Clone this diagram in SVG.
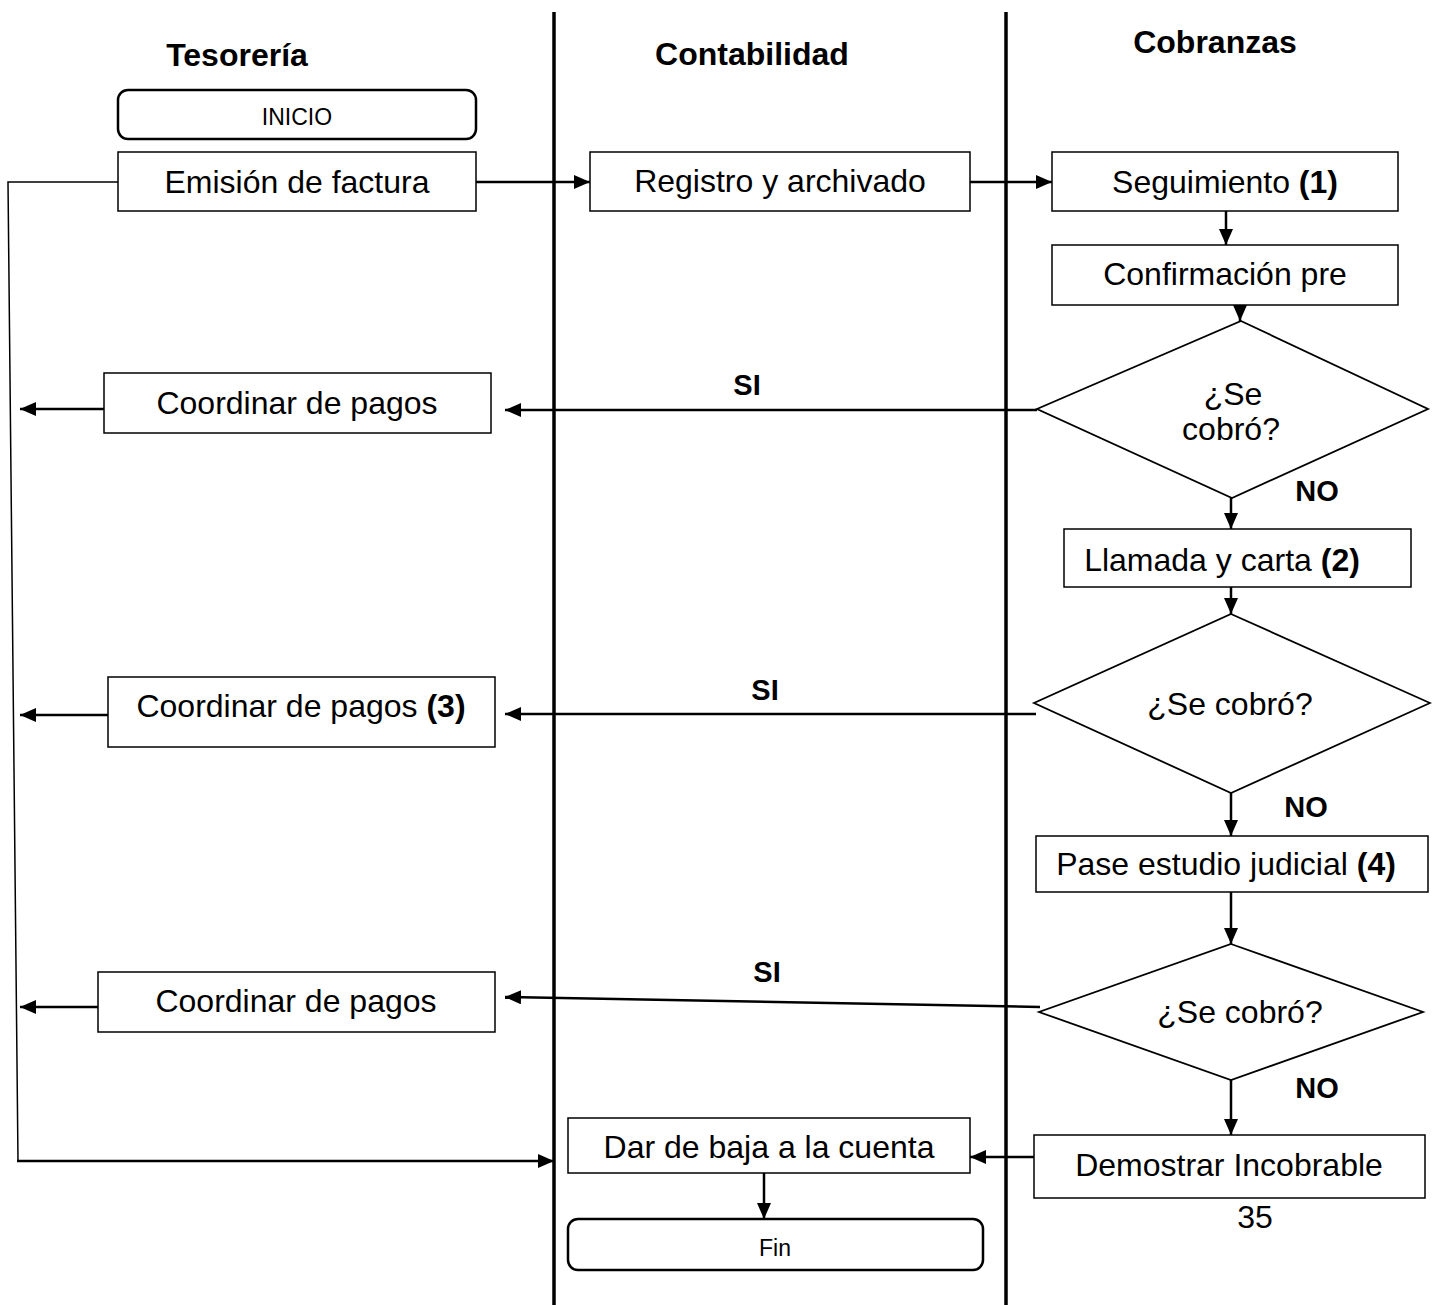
<svg xmlns="http://www.w3.org/2000/svg" width="1432" height="1305" viewBox="0 0 1432 1305">
<style>
text{font-family:"Liberation Sans",Arial,sans-serif;fill:#000;text-anchor:middle}
.h{font-size:32px;font-weight:bold}
.t{font-size:32px}
.s{font-size:23px}
.lb{font-size:29px;font-weight:bold}
.box{fill:#fff;stroke:#000;stroke-width:1.5}
.rbox{fill:#fff;stroke:#000;stroke-width:2.5}
.dia{fill:#fff;stroke:#000;stroke-width:1.8}
.lane{stroke:#000;stroke-width:3.5;fill:none}
.c{stroke:#000;stroke-width:2.5;fill:none;marker-end:url(#ah)}
.thin{stroke:#000;stroke-width:1.5;fill:none}
</style>
<defs>
<marker id="ah" markerUnits="userSpaceOnUse" markerWidth="16" markerHeight="14" refX="16" refY="7" orient="auto">
<path d="M0,0 L16,7 L0,14 z" fill="#000"/>
</marker>
</defs>
<rect width="1432" height="1305" fill="#fff"/>
<g id="lanes">
<line class="lane" x1="554" y1="12" x2="554" y2="1305"/>
<line class="lane" x1="1006" y1="12" x2="1006" y2="1305"/>
<text class="h" x="237" y="66">Tesorería</text>
<text class="h" x="752" y="65">Contabilidad</text>
<text class="h" x="1215" y="53">Cobranzas</text>
</g>
<g id="connectors">
<path class="c" d="M476,182 H590"/>
<path class="c" d="M970,182 H1052"/>
<path class="c" d="M1226,211 V245"/>
<path class="c" d="M1240,305 V321"/>
<path class="c" d="M1231,498 V529"/>
<path class="c" d="M1231,587 V614"/>
<path class="c" d="M1231,793 V836"/>
<path class="c" d="M1231,892 V944"/>
<path class="c" d="M1231,1080 V1135"/>
<path class="c" d="M1034,1157 H970"/>
<path class="c" d="M764,1173 V1219"/>
<path class="c" d="M1037,410 H505"/>
<path class="c" d="M1036,714 H505"/>
<path class="c" d="M1040,1007 L505,997"/>
<path class="c" d="M104,409 H20"/>
<path class="c" d="M108,715 H20"/>
<path class="c" d="M98,1007 H20"/>
<path class="thin" d="M118,182 H8 L18,1161"/>
<path class="c" d="M17,1161 H554"/>
<text class="lb" x="747" y="395">SI</text>
<text class="lb" x="765" y="700">SI</text>
<text class="lb" x="767" y="982">SI</text>
<text class="lb" x="1317" y="501">NO</text>
<text class="lb" x="1306" y="817">NO</text>
<text class="lb" x="1317" y="1098">NO</text>
</g>
<g id="inicio">
<rect class="rbox" x="118" y="90" width="358" height="49" rx="10"/>
<text class="s" x="297" y="125">INICIO</text>
</g>
<g id="emision">
<rect class="box" x="118" y="152" width="358" height="59"/>
<text class="t" x="297" y="193">Emisión de factura</text>
</g>
<g id="registro">
<rect class="box" x="590" y="152" width="380" height="59"/>
<text class="t" x="780" y="192">Registro y archivado</text>
</g>
<g id="seguimiento">
<rect class="box" x="1052" y="152" width="346" height="59"/>
<text class="t" x="1225" y="193">Seguimiento <tspan font-weight="bold">(1)</tspan></text>
</g>
<g id="confirmacion">
<rect class="box" x="1052" y="245" width="346" height="60"/>
<text class="t" x="1225" y="285">Confirmación pre</text>
</g>
<g id="decision1">
<polygon class="dia" points="1241,321 1428,409 1232,498 1037,409"/>
<text class="t" x="1233" y="405">¿Se</text>
<text class="t" x="1231" y="440">cobró?</text>
</g>
<g id="llamada">
<rect class="box" x="1064" y="529" width="347" height="58"/>
<text class="t" x="1222" y="571">Llamada y carta <tspan font-weight="bold">(2)</tspan></text>
</g>
<g id="decision2">
<polygon class="dia" points="1231,614 1430,703 1231,793 1034,703"/>
<text class="t" x="1230" y="715">¿Se cobró?</text>
</g>
<g id="pase">
<rect class="box" x="1036" y="836" width="392" height="56"/>
<text class="t" x="1226" y="875">Pase estudio judicial <tspan font-weight="bold">(4)</tspan></text>
</g>
<g id="decision3">
<polygon class="dia" points="1231,944 1423,1012 1231,1080 1039,1012"/>
<text class="t" x="1240" y="1023">¿Se cobró?</text>
</g>
<g id="demostrar">
<rect class="box" x="1034" y="1135" width="391" height="63"/>
<text class="t" x="1229" y="1176">Demostrar Incobrable</text>
</g>
<g id="pagina">
<text class="t" x="1255" y="1228">35</text>
</g>
<g id="coordinar1">
<rect class="box" x="104" y="373" width="387" height="60"/>
<text class="t" x="297" y="414">Coordinar de pagos</text>
</g>
<g id="coordinar2">
<rect class="box" x="108" y="677" width="387" height="70"/>
<text class="t" x="301" y="717">Coordinar de pagos <tspan font-weight="bold">(3)</tspan></text>
</g>
<g id="coordinar3">
<rect class="box" x="98" y="972" width="397" height="60"/>
<text class="t" x="296" y="1012">Coordinar de pagos</text>
</g>
<g id="darbaja">
<rect class="box" x="568" y="1118" width="402" height="55"/>
<text class="t" x="769" y="1158">Dar de baja a la cuenta</text>
</g>
<g id="fin">
<rect class="rbox" x="568" y="1219" width="415" height="51" rx="10"/>
<text class="s" x="775" y="1256">Fin</text>
</g>
</svg>
